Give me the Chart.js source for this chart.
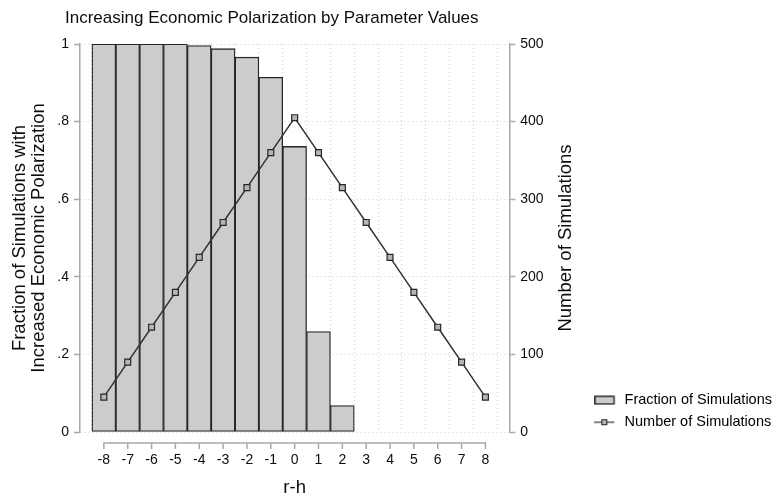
<!DOCTYPE html>
<html>
<head>
<meta charset="utf-8">
<script src="https://cdn.jsdelivr.net/npm/chart.js@4.4.1/dist/chart.umd.min.js"></script>
<style>
  html, body { margin: 0; padding: 0; background: #fff; }
  canvas { display: block; }
</style>
</head>
<body>
<canvas id="grafico" width="777" height="500"></canvas>
<script>
// r-h values (x axis)
const rh = [-8, -7, -6, -5, -4, -3, -2, -1, 0, 1, 2, 3, 4, 5, 6, 7, 8];
const xTickLabels = ["-8", "-7", "-6", "-5", "-4", "-3", "-2", "-1", "0", "1", "2", "3", "4", "5", "6", "7", "8"];

// bars: fraction of simulations with increased polarization
const fracRh = [-8, -7, -6, -5, -4, -3, -2, -1, 0, 1, 2];
const fracValues = [1, 1, 1, 1, 0.996, 0.988, 0.966, 0.914, 0.736, 0.259, 0.068];

// line: number of simulations
const numSims = [45, 90, 135, 180, 225, 270, 315, 360, 405, 360, 315, 270, 225, 180, 135, 90, 45];

const leftTicks = [0, 0.2, 0.4, 0.6, 0.8, 1];
const leftTickLabels = ["0", ".2", ".4", ".6", ".8", "1"];
const rightTicks = [0, 100, 200, 300, 400, 500];
const rightTickLabels = ["0", "100", "200", "300", "400", "500"];

const chartTitle = "Increasing Economic Polarization by Parameter Values";
const leftTitle = ["Fraction of Simulations with", "Increased Economic Polarization"];
const rightTitle = "Number of Simulations";

const FONT = '"Liberation Sans", Arial, Helvetica, sans-serif';
const TEXT = "#0d0d0d";
const AXIS = "#a8a8a8";
const GRID = "#cfcfcf";

Chart.defaults.font.family = FONT;
Chart.defaults.color = TEXT;

// small legend symbols, drawn once
function legendSymbol(kind) {
  const c = document.createElement("canvas");
  c.width = 23;
  c.height = 10;
  const g = c.getContext("2d");
  if (kind === "bar") {
    g.fillStyle = "#cccccc";
    g.fillRect(1, 1, 19, 8);
    g.strokeStyle = "#333";
    g.lineWidth = 1.5;
    g.strokeRect(0.75, 1.25, 19, 7.5);
  } else {
    g.strokeStyle = "#333";
    g.lineWidth = 1.2;
    g.beginPath();
    g.moveTo(0, 5);
    g.lineTo(20, 5);
    g.stroke();
    g.fillStyle = "#b5b5b5";
    g.fillRect(7, 2, 6, 6);
    g.strokeStyle = "#222";
    g.lineWidth = 1;
    g.strokeRect(7.5, 2.5, 5, 5);
  }
  return c;
}

// detached x axis line, main title and right axis title
const axisExtras = {
  id: "axisExtras",
  afterLayout(chart) {
    chart.legend.top += 5;
    chart.legend.bottom += 5;
  },
  afterDraw(chart) {
    const { ctx, chartArea, scales } = chart;
    const x = scales.x;
    const y0 = chartArea.bottom + 11;
    ctx.save();
    ctx.strokeStyle = AXIS;
    ctx.lineWidth = 1.5;
    ctx.beginPath();
    ctx.moveTo(x.getPixelForValue(rh[0]) - 0.75, y0);
    ctx.lineTo(x.getPixelForValue(rh[rh.length - 1]) + 0.75, y0);
    rh.forEach((v) => {
      const px = x.getPixelForValue(v);
      ctx.moveTo(px, y0);
      ctx.lineTo(px, y0 + 6);
    });
    ctx.stroke();

    ctx.fillStyle = TEXT;
    ctx.font = "17px " + FONT;
    ctx.textAlign = "left";
    ctx.textBaseline = "alphabetic";
    ctx.fillText(chartTitle, 65, 22.7);

    ctx.translate(chartArea.right + 56.6, (chartArea.top + chartArea.bottom) / 2);
    ctx.rotate(-Math.PI / 2);
    ctx.font = "18.5px " + FONT;
    ctx.textAlign = "center";
    ctx.textBaseline = "middle";
    ctx.fillText(rightTitle, 0, 0);
    ctx.restore();
  },
};

new Chart(document.getElementById("grafico").getContext("2d"), {
  type: "bar",
  data: {
    datasets: [
      {
        type: "bar",
        label: "Fraction of Simulations",
        data: fracRh.map((x, i) => ({ x: x, y: fracValues[i] })),
        yAxisID: "y",
        backgroundColor: "#cccccc",
        borderColor: "#262626",
        borderWidth: 1.3,
        borderSkipped: false,
        barPercentage: 1,
        categoryPercentage: 1,
        grouped: false,
        order: 1,
      },
      {
        type: "line",
        label: "Number of Simulations",
        data: rh.map((x, i) => ({ x: x, y: numSims[i] })),
        yAxisID: "y2",
        borderColor: "#333333",
        borderWidth: 1.5,
        pointStyle: "rect",
        pointRadius: 4.2,
        pointBackgroundColor: "#b5b5b5",
        pointBorderColor: "#262626",
        pointBorderWidth: 1.2,
        tension: 0,
        order: 0,
      },
    ],
  },
  options: {
    responsive: false,
    animation: false,
    layout: { padding: { top: 44, right: -5, bottom: 0, left: 0 } },
    plugins: {
      title: { display: false },
      tooltip: { enabled: false },
      legend: {
        position: "right",
        align: "end",
        fullSize: false,
        maxWidth: 260,
        labels: {
          usePointStyle: true,
          pointStyleWidth: 23,
          padding: 7.5,
          color: TEXT,
          font: { size: 14.5 },
          generateLabels: () => [
            { text: "Fraction of Simulations", pointStyle: legendSymbol("bar"), datasetIndex: 0, hidden: false, lineWidth: 0 },
            { text: "Number of Simulations", pointStyle: legendSymbol("line"), datasetIndex: 1, hidden: false, lineWidth: 0 },
          ],
        },
      },
    },
    scales: {
      x: {
        type: "linear",
        min: -9,
        max: 9,
        offset: false,
        afterBuildTicks: (s) => {
          s.ticks = rh.map((v) => ({ value: v }));
        },
        ticks: {
          stepSize: 1,
          autoSkip: false,
          maxRotation: 0,
          padding: 20,
          color: TEXT,
          font: { size: 14 },
          callback: (v, i) => xTickLabels[i],
        },
        grid: { color: GRID, lineWidth: 1, drawTicks: false },
        border: { display: false, dash: [1, 3] },
        title: { display: true, text: "r-h", color: TEXT, font: { size: 18.5 }, padding: { top: 0, bottom: 1.3 } },
        afterFit: (s) => {
          s.height = 68;
        },
      },
      y: {
        position: "left",
        min: 0,
        max: 1,
        afterBuildTicks: (s) => {
          s.ticks = leftTicks.map((v) => ({ value: v }));
        },
        ticks: {
          padding: 5,
          color: TEXT,
          font: { size: 14 },
          callback: (v, i) => leftTickLabels[i],
        },
        grid: { color: GRID, lineWidth: 1, tickColor: AXIS, tickLength: 6, tickWidth: 1.5 },
        border: { color: AXIS, width: 1.5, dash: [1, 3] },
        title: {
          display: true,
          text: leftTitle,
          color: TEXT,
          font: { size: 18.5, lineHeight: 1.05 },
          padding: { top: 10, bottom: 0 },
        },
        afterFit: (s) => {
          s.width = 80;
        },
      },
      y2: {
        position: "right",
        min: 0,
        max: 500,
        afterBuildTicks: (s) => {
          s.ticks = rightTicks.map((v) => ({ value: v }));
        },
        ticks: {
          padding: 5,
          color: TEXT,
          font: { size: 14 },
          callback: (v, i) => rightTickLabels[i],
        },
        grid: { drawOnChartArea: false, tickColor: AXIS, tickLength: 6, tickWidth: 1.5 },
        border: { color: AXIS, width: 1.5 },
        afterFit: (s) => {
          s.width = 77.5;
        },
      },
    },
  },
  plugins: [axisExtras],
});
</script>
</body>
</html>
